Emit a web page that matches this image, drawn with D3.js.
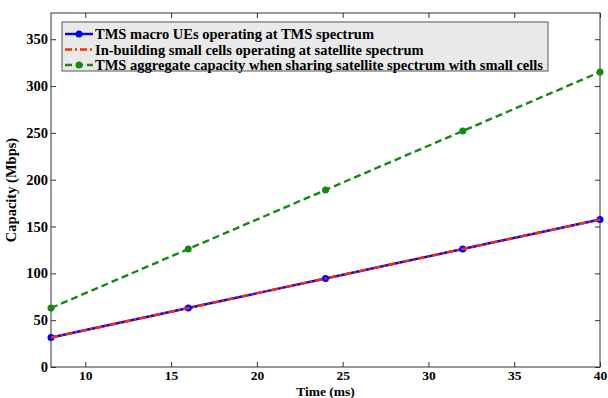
<!DOCTYPE html>
<html>
<head>
<meta charset="utf-8">
<script src="https://cdn.jsdelivr.net/npm/d3@7"></script>
<style>
  body { margin: 0; background: #fff; }
</style>
</head>
<body>
<div id="chart"></div>
<script>
// data
var times = [8, 16, 24, 32, 40];
var macroUE = [31.5, 63, 94.5, 126, 157.5];
var smallCells = [31.5, 63, 94.5, 126, 157.5];
var aggregate = [63, 126, 189, 252, 315];
var xTicks = [10, 15, 20, 25, 30, 35, 40];
var yTicks = [0, 50, 100, 150, 200, 250, 300, 350];
var legendLabels = [
  "TMS macro UEs operating at TMS spectrum",
  "In-building small cells operating at satellite spectrum",
  "TMS aggregate capacity when sharing satellite spectrum with small cells"
];

var FONT = "'Liberation Serif', 'Times New Roman', serif";

var W = 608, H = 398;
var margin = {top: 13, right: 8, bottom: 31, left: 51};
var width = W - margin.left - margin.right,
    height = H - margin.top - margin.bottom;

var svg = d3.select("#chart")
  .append("svg")
    .attr("width", W)
    .attr("height", H)
  .append("g")
    .attr("transform", "translate(" + margin.left + "," + margin.top + ")");

var x = d3.scaleLinear().domain([8, 40]).range([0, width]);
var y = d3.scaleLinear().domain([0, 378]).range([height, 0]);

svg.append("rect")
  .attr("width", width).attr("height", height)
  .attr("fill", "#fff");

function styleText(sel, size) {
  sel.style("font-family", FONT)
     .style("font-weight", "bold")
     .style("font-size", size + "px")
     .attr("fill", "#000");
}

// axes, ticks pointing inward, mirrored on top/right
var tickLen = 5;
svg.append("g")
  .attr("transform", "translate(0," + height + ")")
  .call(d3.axisBottom(x).tickValues(xTicks).tickSizeInner(-tickLen).tickSizeOuter(0).tickPadding(3))
  .call(function(g){ g.select(".domain").remove(); })
  .selectAll("text").call(styleText, 13.5);

svg.append("g")
  .call(d3.axisTop(x).tickValues(xTicks).tickSizeInner(-tickLen).tickSizeOuter(0).tickFormat(""))
  .call(function(g){ g.select(".domain").remove(); });

svg.append("g")
  .call(d3.axisLeft(y).tickValues(yTicks).tickSizeInner(-tickLen).tickSizeOuter(0).tickPadding(3))
  .call(function(g){ g.select(".domain").remove(); })
  .selectAll("text").call(styleText, 14.5);

svg.append("g")
  .attr("transform", "translate(" + width + ",0)")
  .call(d3.axisRight(y).tickValues(yTicks).tickSizeInner(-tickLen).tickSizeOuter(0).tickFormat(""))
  .call(function(g){ g.select(".domain").remove(); });

svg.selectAll(".tick line").attr("stroke", "#333");

svg.append("rect")
  .attr("width", width).attr("height", height)
  .attr("fill", "none").attr("stroke", "#333").attr("stroke-width", 1);

// axis labels
svg.append("text")
  .attr("x", width / 2).attr("y", height + 28.5)
  .attr("text-anchor", "middle")
  .call(styleText, 13.5)
  .text("Time (ms)");

svg.append("text")
  .attr("transform", "translate(" + (-35) + "," + (height / 2) + ") rotate(-90)")
  .attr("text-anchor", "middle")
  .call(styleText, 14.5)
  .text("Capacity (Mbps)");

// lines
var series = [
  {vals: macroUE, color: "#0000ff", dash: null, marker: true},
  {vals: smallCells, color: "#ff2a00", dash: "7,3,2,3", marker: false},
  {vals: aggregate, color: "#138a13", dash: "7,4", marker: true}
];

var line = d3.line()
  .x(function(d, i){ return x(times[i]); })
  .y(function(d){ return y(d); });

series.forEach(function(s){
  svg.append("path")
    .datum(s.vals)
    .attr("fill", "none")
    .attr("stroke", s.color)
    .attr("stroke-width", 2.4)
    .attr("stroke-dasharray", s.dash)
    .attr("d", line);
  if (s.marker) {
    svg.selectAll(null)
      .data(s.vals)
      .enter()
      .append("circle")
        .attr("cx", function(d, i){ return x(times[i]); })
        .attr("cy", function(d){ return y(d); })
        .attr("r", 3.5)
        .attr("fill", s.color);
  }
});

// legend
var lg = svg.append("g").attr("transform", "translate(11,9)");
lg.append("rect")
  .attr("width", 486).attr("height", 49)
  .attr("fill", "#e9e9e9").attr("stroke", "#555").attr("stroke-width", 1);

series.forEach(function(s, i){
  var yy = 12 + i * 15.5;
  lg.append("line")
    .attr("x1", 3).attr("x2", 31)
    .attr("y1", yy).attr("y2", yy)
    .attr("stroke", s.color).attr("stroke-width", 2.4)
    .attr("stroke-dasharray", s.dash);
  if (s.marker) {
    lg.append("circle").attr("cx", 17).attr("cy", yy).attr("r", 3.5).attr("fill", s.color);
  }
  lg.append("text")
    .attr("x", 33).attr("y", yy)
    .attr("dy", "0.35em")
    .call(styleText, 14.5)
    .text(legendLabels[i]);
});
</script>
</body>
</html>
